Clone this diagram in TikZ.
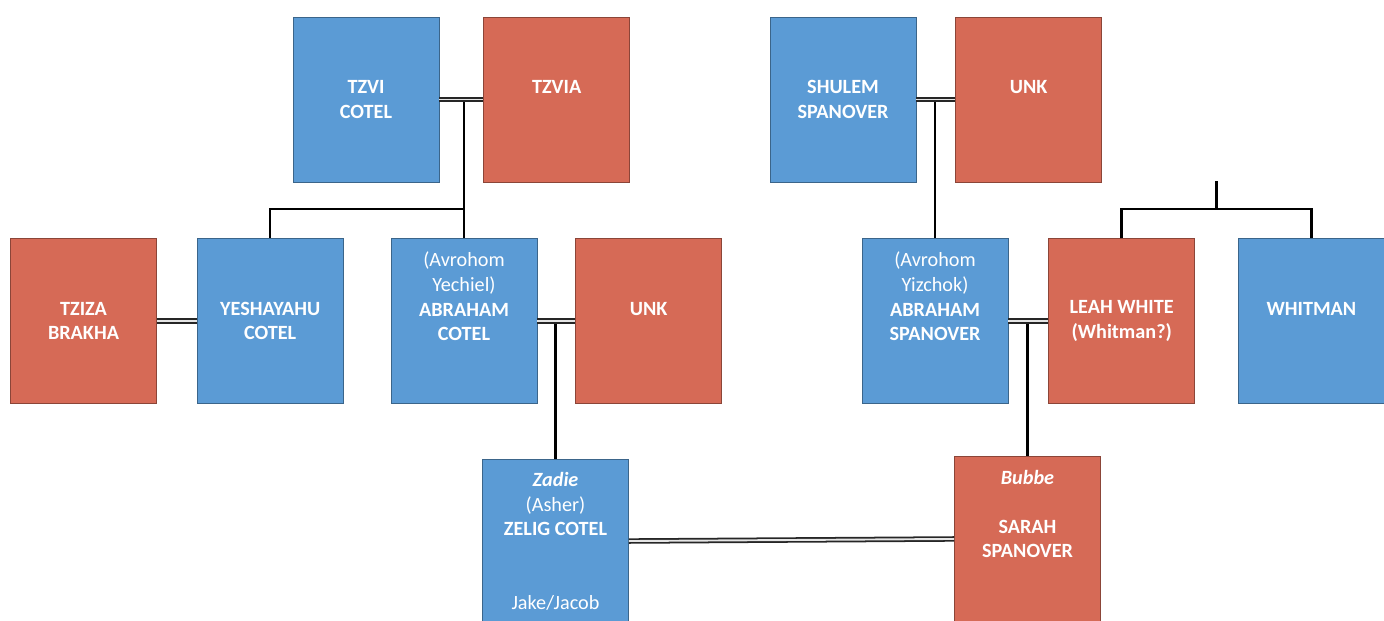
\documentclass[tikz,border=0pt]{standalone}
\usepackage{fontspec}
\setmainfont{Carlito}
\usetikzlibrary{positioning,calc}
\definecolor{maleblue}{RGB}{91,155,213}
\definecolor{femalered}{RGB}{214,106,86}
\tikzset{
  person/.style={draw, minimum width=2.92cm, minimum height=3.3cm, inner sep=0pt,
    align=center, text=white, font=\fontsize{11.5}{14}\selectfont\bfseries},
  male/.style={person, fill=maleblue, draw=maleblue!65!black},
  female/.style={person, fill=femalered, draw=femalered!65!black},
  wed/.style={draw=black!85, line width=1pt, double=white!90!black, double distance=1.1pt},
  kin/.style={line width=1.4pt}
}
\begin{document}
\begin{tikzpicture}[node distance=0.8cm]
        \useasboundingbox (0,0) rectangle (27.68,-12.42);
        % grandparents
        \node[male] (tzvi) at (7.32,-1.99) {TZVI\\COTEL};
        \node[female, right=0.88cm of tzvi] (tzvia) {TZVIA\\~};
        \node[male] (shulem) at (16.86,-1.99) {SHULEM\\SPANOVER};
        \node[female, right=0.78cm of shulem] (unka) {UNK\\~};
        % parents
        \node[female] (tziza) at (1.67,-6.42) {TZIZA\\BRAKHA};
        \node[male, right=of tziza] (yesh) {YESHAYAHU\\COTEL};
        \node[male] (abrc) at (9.28,-6.42) {{\mdseries (Avrohom}\\{\mdseries Yechiel)}\\ABRAHAM\\COTEL\\~\\~};
        \node[female, right=0.76cm of abrc] (unkb) {UNK\\~};
        \node[male] (abrs) at (18.70,-6.42) {{\mdseries (Avrohom}\\{\mdseries Yizchok)}\\ABRAHAM\\SPANOVER\\~\\~};
        \node[female, right=of abrs] (leah) {LEAH WHITE\\(Whitman?)};
        \node[male, right=0.86cm of leah] (whitman) {WHITMAN\\~};
        % couple
        \node[male] (zelig) at (11.11,-10.83) {{\itshape Zadie}\\{\mdseries (Asher)}\\ZELIG COTEL\\~\\~\\{\mdseries Jake/Jacob}};
        \node[female] (sarah) at (20.55,-10.77) {{\itshape Bubbe}\\~\\SARAH\\SPANOVER\\~\\~};
        \coordinate[above=0.58cm of abrc.north] (fork1);
        \coordinate (fork2) at ($(leah.north)!0.5!(whitman.north)+(0,0.58)$);
        \coordinate[above=0.56cm of fork2] (stub);
        \draw[kin] (abrc.north) -- (abrc.north |- tzvi.east);
        \draw[kin] (fork1) -| (yesh.north);
        \draw[kin] (abrs.north) -- (abrs.north |- shulem.east);
        \draw[kin] (zelig.north) -- (zelig.north |- abrc.east);
        \draw[kin] (sarah.north) -- (sarah.north |- abrs.east);
        \draw[kin] (leah.north) |- (fork2) -| (whitman.north);
        \draw[kin] (fork2) -- (stub);
        \path
        (tzvi) edge[wed] (tzvia)
        (shulem) edge[wed] (unka)
        (tziza) edge[wed] (yesh)
        (abrc) edge[wed] (unkb)
        (abrs) edge[wed] (leah)
        (zelig) edge[wed] (sarah);
\end{tikzpicture}
\end{document}
